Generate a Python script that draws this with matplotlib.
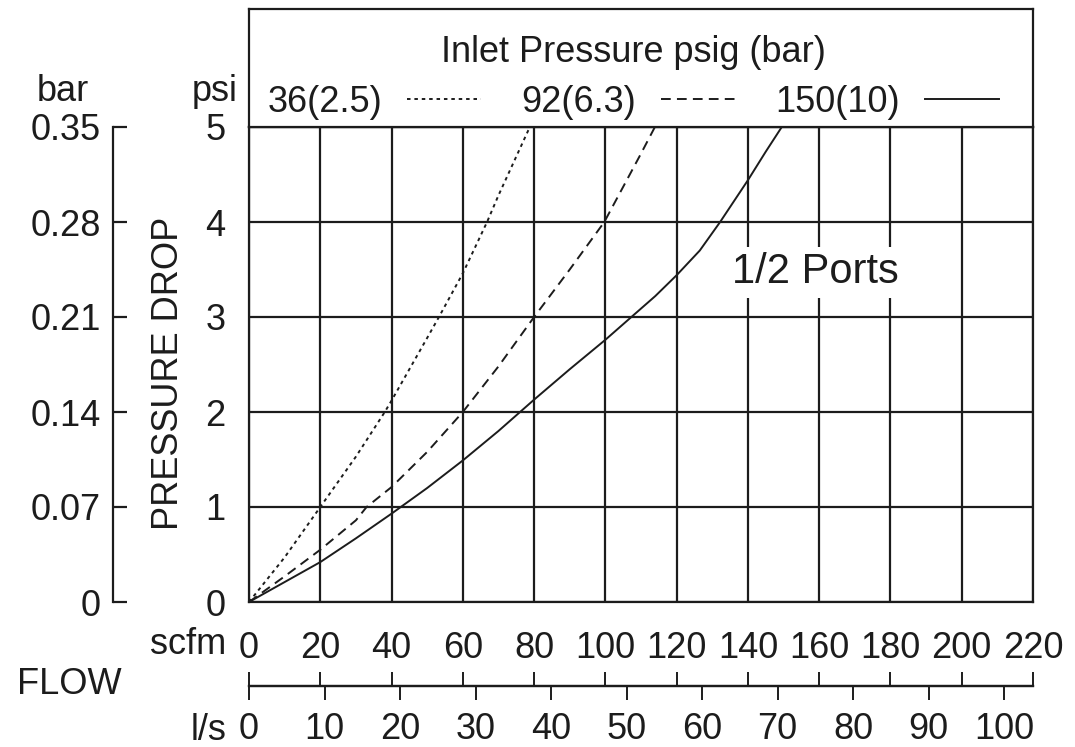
"""Pressure drop vs flow chart for 1/2 ports."""

import matplotlib

matplotlib.use("Agg")
import matplotlib.pyplot as plt  # noqa: E402

W, H = 1075, 747
INK = "#1c1c1c"

scfm_ticks = list(range(0, 221, 20))
lps_ticks = list(range(0, 101, 10))
psi_ticks = [0, 1, 2, 3, 4, 5]
bar_labels = ["0", "0.07", "0.14", "0.21", "0.28", "0.35"]
SCFM_PER_LPS = 2.11888

pressure_labels = ["36(2.5)", "92(6.3)", "150(10)"]

flow_36 = [0, 10, 20, 30, 38.1, 40, 50, 53.3, 60, 66.8, 70, 78.8]
drop_36 = [0, 0.47, 1.0, 1.53, 2.0, 2.12, 2.78, 3.0, 3.46, 4.0, 4.28, 5.0]

flow_92 = [0, 10, 20, 30, 33, 40, 50, 60, 70, 80, 90, 99.7, 110, 113.9]
drop_92 = [0, 0.27, 0.55, 0.86, 1.0, 1.21, 1.58, 2.0, 2.48, 3.0, 3.5, 4.0, 4.72, 5.0]

flow_150 = [0, 10, 20, 30, 40, 50, 60, 70, 80, 90, 100, 107.3, 114, 120, 126.5, 132.2, 140, 145, 149.5]
drop_150 = [0, 0.21, 0.42, 0.67, 0.93, 1.2, 1.49, 1.8, 2.13, 2.45, 2.76, 3.0, 3.22, 3.44, 3.7, 4.0, 4.44, 4.74, 5.0]


def fx(px: float) -> float:
    return px / W


def fy(py: float) -> float:
    return 1 - py / H


plt.rcParams["font.family"] = ["Liberation Sans", "DejaVu Sans"]
plt.rcParams["font.size"] = 26
plt.rcParams["text.color"] = INK
plt.rcParams["xtick.color"] = INK
plt.rcParams["ytick.color"] = INK

fig = plt.figure(figsize=(W / 100, H / 100), dpi=100)

# main plot area
ax = fig.add_axes([fx(249), fy(602), (1033 - 249) / W, (602 - 127) / H])
ax.set_xlim(0, 220)
ax.set_ylim(0, 5)
ax.set_xticks(scfm_ticks)
ax.set_yticks(psi_ticks)
ax.tick_params(axis="x", length=0, pad=21)
ax.tick_params(axis="y", length=0, pad=17)
ax.grid(True, color=INK, linewidth=1.6)
ax.set_axisbelow(True)
for spine in ax.spines.values():
    spine.set_color(INK)
    spine.set_linewidth(1.6)

styles = [(0, (1.8, 2.0)), (0, (5.0, 3.2)), "-"]
handles = []
for flow, drop, style, label in zip(
    [flow_36, flow_92, flow_150], [drop_36, drop_92, drop_150], styles, pressure_labels
):
    (line,) = ax.plot(flow, drop, color=INK, linewidth=1.4, linestyle=style, label=label)
    handles.append(line)

ax.text(
    159, 3.47, "1/2 Ports", fontsize=30, ha="center", va="center",
    bbox=dict(facecolor="white", edgecolor="none", pad=4),
)

# bar scale on the far left
bar_ax = ax.secondary_yaxis((113 - 249) / (1033 - 249))
bar_ax.set_yticks(psi_ticks)
bar_ax.set_yticklabels(bar_labels)
bar_ax.tick_params(direction="in", length=10, width=1.6, pad=9)
bar_ax.spines["left"].set_linewidth(1.6)
bar_ax.spines["left"].set_color(INK)

# flow scale below: scfm ticks up, l/s ticks down
flow_loc = -(686 - 602) / (602 - 127)
scfm_ax = ax.secondary_xaxis(flow_loc)
scfm_ax.set_xticks(scfm_ticks)
scfm_ax.set_xticklabels([])
scfm_ax.tick_params(direction="in", length=10, width=1.4)
scfm_ax.spines["bottom"].set_linewidth(1.6)
scfm_ax.spines["bottom"].set_color(INK)

lps_ax = ax.secondary_xaxis(
    flow_loc, functions=(lambda x: x / SCFM_PER_LPS, lambda x: x * SCFM_PER_LPS)
)
lps_ax.set_xticks(lps_ticks)
lps_ax.tick_params(direction="out", length=10, width=1.4, pad=9)
lps_ax.spines["bottom"].set_linewidth(1.6)
lps_ax.spines["bottom"].set_color(INK)

# header box with the legend
hax = fig.add_axes([fx(249), fy(127), (1033 - 249) / W, (127 - 9) / H])
hax.set_xticks([])
hax.set_yticks([])
for spine in hax.spines.values():
    spine.set_color(INK)
    spine.set_linewidth(1.6)
leg = hax.legend(
    handles, pressure_labels, title="Inlet Pressure psig (bar)", ncol=3,
    loc="center", bbox_to_anchor=(0.49, 0.42), frameon=False, markerfirst=False,
    handlelength=2.05, handletextpad=0.7, columnspacing=1.1, labelspacing=0.42,
    borderpad=0, title_fontsize=26,
)

# axis captions
fig.text(fx(63), fy(101), "bar", ha="center", va="baseline")
fig.text(fx(215), fy(101), "psi", ha="center", va="baseline")
fig.text(fx(168), fy(373), "PRESSURE DROP", rotation=90, ha="center", va="center")
fig.text(fx(226), fy(645), "scfm", ha="right", va="center")
fig.text(fx(17), fy(685), "FLOW", ha="left", va="center")
fig.text(fx(226), fy(730), "l/s", ha="right", va="center")

fig.savefig("out.png", dpi=100)
plt.close(fig)
